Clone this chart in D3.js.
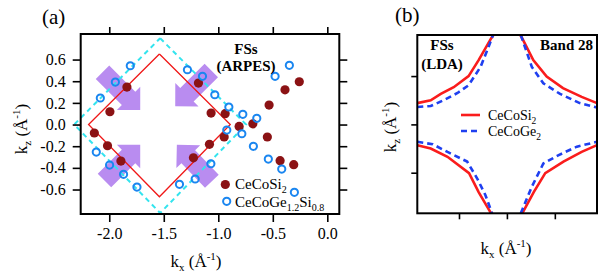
<!DOCTYPE html>
<html>
<head>
<meta charset="utf-8">
<script src="https://cdn.jsdelivr.net/npm/d3@7"></script>
<style>
    body { margin: 0; background: #fff; }
</style>
</head>
<body>
<div id="chart"></div>
<script>
// ---- panel (a) data : ARPES Fermi surface points ----
const kxTicks = [-2.0, -1.5, -1.0, -0.5, 0.0];
const kzTicks = [-0.6, -0.4, -0.2, 0.0, 0.2, 0.4, 0.6];

// CeCoSi2 (filled dark red)
const siKx = [-1.838, -1.994, -2.137, -2.016, -1.893, -1.182, -1.066, -0.937, -0.809, -0.946,
              -1.081, -1.228, -0.683, -0.534, -0.550, -0.388, -0.257, -0.433, -0.308];
const siKz = [0.346, 0.118, -0.078, -0.196, -0.337, 0.383, 0.106, 0.100, -0.017, -0.115,
              -0.183, -0.307, 0.007, 0.180, -0.115, 0.321, 0.395, -0.334, -0.371];

// CeCoGe1.2Si0.8 (open blue)
const geKx = [-1.807, -1.944, -2.082, -2.119, -1.997, -1.869, -1.746, -1.283, -1.145, -1.032,
              -0.903, -0.775, -0.647, -0.922, -0.784, -0.678, -1.068, -1.212, -1.356, -0.541,
              -0.418, -0.479, -0.348, -0.302];
const geKz = [0.543, 0.392, 0.245, -0.254, -0.374, -0.460, -0.577, 0.506, 0.445, 0.275,
              0.162, 0.094, 0.057, -0.051, -0.085, -0.201, -0.362, -0.503, -0.552, -0.319,
              -0.411, 0.445, 0.547, -0.626];

// Brillouin zone guides
const redSquareKx = [-1.54, -0.89, -1.54, -2.19, -1.54];
const redSquareKz = [0.651, 0.0, -0.667, 0.0, 0.651];
const cyanSquareKx = [-1.533, -0.745, -1.533, -2.322, -1.533];
const cyanSquareKz = [0.797, 0.0, -0.817, 0.0, 0.797];

// purple arrows: tail -> tip
const arrowTailKx = [-2.062, -1.064, -2.044, -1.059];
const arrowTailKz = [0.483, 0.499, -0.517, -0.524];
const arrowTipKx = [-1.716, -1.395, -1.716, -1.380];
const arrowTipKz = [0.134, 0.168, -0.187, -0.187];

// ---- panel (b) data : LDA band 28 contours (arbitrary units) ----
const ldaTicks = [-1, 0, 1];
const siUpperLeft = [[-1.87, 0.44], [-1.59, 0.50], [-1.38, 0.63], [-1.11, 0.77], [-0.80, 1.00], [-0.59, 1.33], [-0.33, 1.78], [-0.28, 1.85]];
const siUpperRight = [[0.28, 1.85], [0.32, 1.78], [0.55, 1.33], [0.83, 0.99], [1.17, 0.75], [1.56, 0.57], [1.88, 0.44]];
const siLowerLeft = [[-1.87, -0.43], [-1.59, -0.50], [-1.24, -0.67], [-0.79, -1.01], [-0.59, -1.40], [-0.33, -1.84]];
const siLowerRight = [[0.32, -1.84], [0.56, -1.40], [0.80, -1.01], [1.18, -0.77], [1.56, -0.57], [1.88, -0.43]];
const geUpperLeft = [[-1.87, 0.36], [-1.59, 0.38], [-1.32, 0.50], [-1.03, 0.65], [-0.80, 0.81], [-0.55, 1.19], [-0.38, 1.61], [-0.29, 1.85]];
const geUpperRight = [[0.29, 1.85], [0.52, 1.19], [0.76, 0.85], [1.11, 0.63], [1.52, 0.44], [1.88, 0.35]];
const geLowerLeft = [[-1.87, -0.36], [-1.55, -0.41], [-1.24, -0.57], [-0.83, -0.77], [-0.62, -1.12], [-0.45, -1.46], [-0.31, -1.84]];
const geLowerRight = [[0.29, -1.84], [0.52, -1.29], [0.76, -0.81], [1.07, -0.64], [1.46, -0.46], [1.88, -0.36]];

const FONT = "Liberation Serif, Times New Roman, serif";
const width = 599, height = 280;
const svg = d3.select("#chart").append("svg")
    .attr("width", width)
    .attr("height", height)
    .attr("font-family", FONT);

const fmt = d => d.toFixed(1);

// plain text helper, serif everywhere
function label(x, y, size, str) {
    return svg.append("text")
        .attr("x", x).attr("y", y)
        .attr("font-family", FONT)
        .attr("font-size", size)
        .attr("fill", "#000")
        .text(str || null);
}

// "k_z (Å^-1)" style axis labels
function axisLabel(sel, sub) {
    sel.append("tspan").text("k");
    sel.append("tspan").attr("font-size", "11px").attr("dy", 4).text(sub);
    sel.append("tspan").attr("dy", -4).text(" (Å");
    sel.append("tspan").attr("font-size", "11px").attr("dy", -7).text("-1");
    sel.append("tspan").attr("dy", 7).text(")");
}

function drawPanelA() {
    const xA = d3.scaleLinear().domain([-2.262, 0.110]).range([80.7, 339.3]);
    const yA = d3.scaleLinear().domain([-0.826, 0.836]).range([214, 34]);
    const g = svg.append("g");

    // arrows (drawn first, underneath)
    const sw = 9.5, hw = 16.5, hl = 16.5;
    arrowTipKx.forEach((d, i) => {
        const tx = xA(arrowTailKx[i]), ty = yA(arrowTailKz[i]);
        const px = xA(arrowTipKx[i]), py = yA(arrowTipKz[i]);
        const len = Math.hypot(px - tx, py - ty);
        const ux = (px - tx) / len, uy = (py - ty) / len;
        const nx = -uy, ny = ux;
        const bx = px - ux * hl, by = py - uy * hl;
        const pts = [
            [tx + nx * sw, ty + ny * sw], [bx + nx * sw, by + ny * sw], [bx + nx * hw, by + ny * hw],
            [px, py],
            [bx - nx * hw, by - ny * hw], [bx - nx * sw, by - ny * sw], [tx - nx * sw, ty - ny * sw]
        ];
        g.append("polygon")
            .attr("points", pts.map(p => p.join(",")).join(" "))
            .attr("fill", "#b98cf0");
    });

    const line = d3.line().x(d => xA(d[0])).y(d => yA(d[1]));

    g.append("path")
        .datum(cyanSquareKx.map((d, i) => [d, cyanSquareKz[i]]))
        .attr("d", line)
        .attr("fill", "none")
        .attr("stroke", "#33e4ee")
        .attr("stroke-width", 2)
        .attr("stroke-dasharray", "5,4");

    g.append("path")
        .datum(redSquareKx.map((d, i) => [d, redSquareKz[i]]))
        .attr("d", line)
        .attr("fill", "none")
        .attr("stroke", "#f01818")
        .attr("stroke-width", 1.3);

    // markers
    g.selectAll(".si")
        .data(siKx)
        .enter().append("circle")
        .attr("class", "si")
        .attr("cx", d => xA(d))
        .attr("cy", (d, i) => yA(siKz[i]))
        .attr("r", 4.6)
        .attr("fill", "#8b1214");

    g.selectAll(".ge")
        .data(geKx)
        .enter().append("circle")
        .attr("class", "ge")
        .attr("cx", d => xA(d))
        .attr("cy", (d, i) => yA(geKz[i]))
        .attr("r", 3.6)
        .attr("fill", "none")
        .attr("stroke", "#1a86f0")
        .attr("stroke-width", 2);

    // axes
    const bottom = svg.append("g")
        .attr("transform", "translate(0,214)")
        .call(d3.axisBottom(xA).tickValues(kxTicks).tickFormat(fmt).tickSizeInner(8).tickSizeOuter(0).tickPadding(6));
    const top = svg.append("g")
        .attr("transform", "translate(0,34)")
        .call(d3.axisTop(xA).tickValues(kxTicks).tickFormat("").tickSizeInner(7).tickSizeOuter(0));
    const left = svg.append("g")
        .attr("transform", "translate(80.7,0)")
        .call(d3.axisLeft(yA).tickValues(kzTicks).tickFormat(fmt).tickSizeInner(8).tickSizeOuter(0).tickPadding(7));
    const right = svg.append("g")
        .attr("transform", "translate(339.3,0)")
        .call(d3.axisRight(yA).tickValues(kzTicks).tickFormat("").tickSizeInner(8).tickSizeOuter(0));
    [bottom, top, left, right].forEach(a => {
        a.attr("font-family", FONT).attr("font-size", 16);
        a.select(".domain").remove();
        a.selectAll(".tick line").attr("stroke", "#000").attr("stroke-width", 1.6);
        a.selectAll(".tick text").attr("fill", "#000");
    });

    svg.append("rect")
        .attr("x", 80.7).attr("y", 34)
        .attr("width", 258.6).attr("height", 180)
        .attr("fill", "none").attr("stroke", "#000").attr("stroke-width", 2);

    // annotations
    label(246, 54, 15, "FSs").attr("text-anchor", "middle").attr("font-weight", "bold");
    label(246, 71, 15, "(ARPES)").attr("text-anchor", "middle").attr("font-weight", "bold");

    // legend
    svg.append("circle").attr("cx", 225.3).attr("cy", 184.5).attr("r", 4.6).attr("fill", "#8b1214");
    const l1 = label(235, 188.5, 15);
    l1.append("tspan").text("CeCoSi");
    l1.append("tspan").attr("font-size", "10px").attr("dy", 4).text("2");
    svg.append("circle").attr("cx", 226.7).attr("cy", 201.3).attr("r", 3.6)
        .attr("fill", "none").attr("stroke", "#1a86f0").attr("stroke-width", 2);
    const l2 = label(235, 206.5, 15);
    l2.append("tspan").text("CeCoGe");
    l2.append("tspan").attr("font-size", "10px").attr("dy", 4).text("1.2");
    l2.append("tspan").attr("dy", -4).text("Si");
    l2.append("tspan").attr("font-size", "10px").attr("dy", 4).text("0.8");

    // axis labels
    label(196, 266.5, 17).attr("text-anchor", "middle").call(axisLabel, "x");
    label(0, 0, 17).attr("transform", "translate(26.5,129) rotate(-90)")
        .attr("text-anchor", "middle").call(axisLabel, "z");

    label(42, 24, 21, "(a)");
}

function drawPanelB() {
    const xB = d3.scaleLinear().domain([-1.87, 1.88]).range([417.3, 597]);
    const yB = d3.scaleLinear().domain([-1.84, 1.85]).range([213.3, 35]);
    const g = svg.append("g");
    const line = d3.line().x(d => xB(d[0])).y(d => yB(d[1]));

    [siUpperLeft, siUpperRight, siLowerLeft, siLowerRight].forEach(c => {
        g.append("path").datum(c).attr("d", line)
            .attr("fill", "none").attr("stroke", "#fa1c1c").attr("stroke-width", 2.6);
    });
    [geUpperLeft, geUpperRight, geLowerLeft, geLowerRight].forEach(c => {
        g.append("path").datum(c).attr("d", line)
            .attr("fill", "none").attr("stroke", "#1f3ff0").attr("stroke-width", 2.6)
            .attr("stroke-dasharray", "6,4");
    });

    const bottom = svg.append("g")
        .attr("transform", "translate(0,213.3)")
        .call(d3.axisBottom(xB).tickValues(ldaTicks).tickFormat("").tickSizeInner(6).tickSizeOuter(0));
    const left = svg.append("g")
        .attr("transform", "translate(417.3,0)")
        .call(d3.axisLeft(yB).tickValues(ldaTicks).tickFormat("").tickSizeInner(6).tickSizeOuter(0));
    [bottom, left].forEach(a => {
        a.select(".domain").remove();
        a.selectAll(".tick line").attr("stroke", "#000").attr("stroke-width", 1.6);
    });

    svg.append("rect")
        .attr("x", 417.3).attr("y", 35)
        .attr("width", 179.7).attr("height", 178.3)
        .attr("fill", "none").attr("stroke", "#000").attr("stroke-width", 2);

    label(442, 50, 15, "FSs").attr("text-anchor", "middle").attr("font-weight", "bold");
    label(442, 69, 15, "(LDA)").attr("text-anchor", "middle").attr("font-weight", "bold");
    label(593, 50, 15, "Band 28").attr("text-anchor", "end").attr("font-weight", "bold");

    // legend
    svg.append("line").attr("x1", 461).attr("x2", 480).attr("y1", 115).attr("y2", 115)
        .attr("stroke", "#fa1c1c").attr("stroke-width", 2.6);
    const l1 = label(488, 119.5, 14);
    l1.append("tspan").text("CeCoSi");
    l1.append("tspan").attr("font-size", "9.5px").attr("dy", 4).text("2");
    svg.append("line").attr("x1", 461).attr("x2", 481).attr("y1", 131).attr("y2", 131)
        .attr("stroke", "#1f3ff0").attr("stroke-width", 2.6).attr("stroke-dasharray", "6,4");
    const l2 = label(488, 136, 14);
    l2.append("tspan").text("CeCoGe");
    l2.append("tspan").attr("font-size", "9.5px").attr("dy", 4).text("2");

    label(506, 254, 17).attr("text-anchor", "middle").call(axisLabel, "x");
    label(0, 0, 17).attr("transform", "translate(395.5,127) rotate(-90)")
        .attr("text-anchor", "middle").call(axisLabel, "z");

    label(395, 22, 21, "(b)");
}

drawPanelA();
drawPanelB();
</script>
</body>
</html>
